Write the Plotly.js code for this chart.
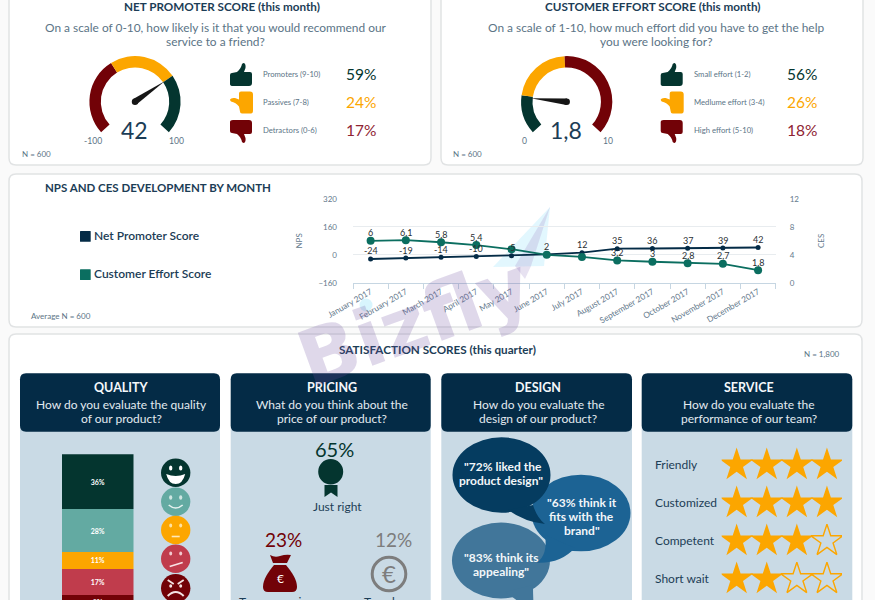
<!DOCTYPE html>
<html>
<head>
<meta charset="utf-8">
<title>Customer satisfaction dashboard</title>
<script src="https://cdn.plot.ly/plotly-3.0.1.min.js"></script>
<style>
    html, body { margin: 0; padding: 0; width: 875px; height: 600px; overflow: hidden; background: #fafafa; }
</style>
</head>
<body>
<div id="dashboard"></div>
<script>
// --- Data ---
const months = ['January 2017', 'February 2017', 'March 2017', 'April 2017', 'May 2017', 'June 2017', 'July 2017', 'August 2017', 'September 2017', 'October 2017', 'November 2017', 'December 2017'];
const npsValues = [-24, -19, -14, -10, -5, 2, 12, 35, 36, 37, 39, 42];
const cesValues = [6, 6.1, 5.8, 5.4, 4.8, 4, 3.7, 3.2, 3, 2.8, 2.7, 1.8];
const npsText = ['-24', '-19', '-14', '-10', '-5', '2', '12', '35', '36', '37', '39', '42'];
const cesText = ['6', '6,1', '5,8', '5,4', '', '', '', '3,2', '3', '2,8', '2,7', '1,8'];

const npsScore = 42;
const npsScale = [-100, 100];
const npsBands = [76, 66, 58];
const cesScore = 1.8;
const cesScale = [0, 10];
const cesBands = [1.9, 3, 5.1];

const npsGroups = ['Promoters (9-10)', 'Passives (7-8)', 'Detractors (0-6)'];
const npsShares = ['59%', '24%', '17%'];
const cesGroups = ['Small effort (1-2)', 'Medlume effort (3-4)', 'High effort (5-10)'];
const cesShares = ['56%', '26%', '18%'];

const qualityValues = [36, 28, 11, 17, 8];
const serviceRows = ['Friendly', 'Customized', 'Competent', 'Short wait'];
const serviceRatings = [4, 4, 3, 2];
const maxStars = 4;

// --- Colours ---
const GREEN = '#04352f', TEAL = '#63aaa2', AMBER = '#fca600', ROSE = '#c03c4c', MAROON = '#720207';
const NAVY = '#042b46', INK = '#1c3d56', SOFT = '#5b7486', PANEL = '#c9dae5', LINE_TEAL = '#0b6e60';
const FONT = 'Lato, "Open Sans", sans-serif';

// The div is taller than the window: the lower panels run off the bottom edge
const W = 875, H = 640;
const X = x => x / W;
const Y = y => 1 - y / H;

const shapes = [];
const notes = [];

function txt(x, y, text, size, color, extra) {
    const e = extra || {};
    notes.push(Object.assign({
        xref: 'paper', yref: 'paper', x: X(x), y: Y(y), text, showarrow: false,
        xanchor: 'center', yanchor: 'middle', yshift: 1, xshift: e.xanchor === 'left' ? -2 : 0,
        font: { family: FONT, size, color, weight: e.weight || 400 }
    }, extra || {}));
}

// d is written in window pixels, tf optionally moves/rotates the points first
function pathOf(d, tf) {
    return d.replace(/(-?[\d.]+)[ ,]+(-?[\d.]+)/g, (m, a, b) => {
        const p = tf ? tf(+a, +b) : [+a, +b];
        return X(p[0]).toFixed(5) + ',' + Y(p[1]).toFixed(5);
    });
}
function draw(d, fill, opts) {
    const o = opts || {};
    shapes.push({
        type: 'path', xref: 'paper', yref: 'paper', path: pathOf(d, o.tf),
        fillcolor: fill, layer: o.layer || 'above',
        line: { width: o.lineWidth || 0, color: o.lineColor || 'rgba(0,0,0,0)' }
    });
}
function stroke(d, color, width, tf) {
    shapes.push({
        type: 'path', xref: 'paper', yref: 'paper', path: pathOf(d, tf), layer: 'above',
        fillcolor: 'rgba(0,0,0,0)', line: { width, color }
    });
}
function dot(cx, cy, rx, ry, fill, opts) {
    const o = opts || {};
    shapes.push({
        type: 'circle', xref: 'paper', yref: 'paper', layer: o.layer || 'above',
        x0: X(cx - rx), x1: X(cx + rx), y0: Y(cy - ry), y1: Y(cy + ry),
        fillcolor: fill, line: { width: o.lineWidth || 0, color: o.lineColor || 'rgba(0,0,0,0)' }
    });
}
function round(x0, y0, x1, y1, r) {
    return `M ${x0 + r} ${y0} L ${x1 - r} ${y0} Q ${x1} ${y0} ${x1} ${y0 + r} L ${x1} ${y1 - r} Q ${x1} ${y1} ${x1 - r} ${y1} L ${x0 + r} ${y1} Q ${x0} ${y1} ${x0} ${y1 - r} L ${x0} ${y0 + r} Q ${x0} ${y0} ${x0 + r} ${y0} Z`;
}

// --- Cards ---
[[9, -20, 431, 165], [441, -20, 863, 165], [9, 174, 862, 327], [9, 334, 862, 660]].forEach(c => {
    draw(round(c[0], c[1], c[2], c[3], 7), '#ffffff', { layer: 'below', lineWidth: 1.5, lineColor: '#e1e3e4' });
});

// --- Watermark plane, sits behind the chart ---
draw('M 550 207 L 493 267 L 544 266 Z', 'rgba(190,238,252,0.45)', { layer: 'below' });
draw('M 550 207 L 515 266 L 525 279 L 531 266 Z', 'rgba(170,150,205,0.28)', { layer: 'below' });
dot(366, 305, 6.5, 6.5, 'rgba(190,238,252,0.6)', { layer: 'below' });

// --- Gauges ---
const GAUGE_SWEEP = 264, GAUGE_R = 45.6;

function gaugeTrace(cx, cy, bands, colors) {
    const total = bands.reduce((a, b) => a + b, 0);
    return {
        type: 'pie', values: bands.concat([total * (360 - GAUGE_SWEEP) / GAUGE_SWEEP]),
        sort: false, direction: 'clockwise', rotation: -GAUGE_SWEEP / 2, hole: 0.75,
        textinfo: 'none', hoverinfo: 'skip', showlegend: false,
        marker: { colors: colors.concat(['rgba(0,0,0,0)']), line: { width: 0 } },
        domain: { x: [X(cx - GAUGE_R), X(cx + GAUGE_R)], y: [Y(cy + GAUGE_R), Y(cy - GAUGE_R)] }
    };
}
function needle(cx, cy, value, scale) {
    const deg = -GAUGE_SWEEP / 2 + (value - scale[0]) / (scale[1] - scale[0]) * GAUGE_SWEEP;
    const a = deg * Math.PI / 180;
    const ux = Math.sin(a), uy = -Math.cos(a), nx = -uy, ny = ux;
    const tip = [cx + ux * 36, cy + uy * 36];
    const b = 3.2;
    draw(`M ${tip[0]} ${tip[1]} L ${cx + nx * b} ${cy + ny * b} L ${cx - nx * b} ${cy - ny * b} Z`, '#161616');
    dot(cx, cy, b, b, '#161616');
}

// --- Thumbs, local box is 22 x 23 ---
const THUMB = 'M 0 12 Q 0 10 2 10 L 7 9 Q 11 6 12 1 Q 13 0 14 0 Q 16 1 15.5 5 L 14 9 L 20 9 Q 22 9 22 11 L 22 20 Q 22 23 19 23 L 3 23 Q 0 23 0 21 Z';
function thumbs(ox) {
    draw(THUMB, GREEN, { tf: (x, y) => [ox + x, 63 + y] });
    draw(THUMB, AMBER, { tf: (x, y) => [ox + y, 91.5 + 22 - x] });
    draw(THUMB, MAROON, { tf: (x, y) => [ox + x, 121 + 22 - y] });
}

function scoreCard(o) {
    txt(o.titleX, 7, o.title, 11.7, INK, { weight: 700 });
    txt(o.askX, 29, o.ask[0], 11.9, SOFT);
    txt(o.askX, 43, o.ask[1], 11.9, SOFT);
    needle(o.cx, 101.7, o.score, o.scale);
    txt(o.cx - 0.5, 131, o.scoreText, 23, INK);
    txt(o.minX, 142, String(o.scale[0]), 8.6, SOFT);
    txt(o.maxX, 142, String(o.scale[1]), 8.6, SOFT);
    thumbs(o.thumbX);
    [74.5, 102.5, 131].forEach((y, i) => {
        txt(o.labelX, y, o.groups[i], 7.7, SOFT, { xanchor: 'left' });
        txt(o.shareX, y, o.shares[i], 15.5, [GREEN, AMBER, '#8f2433'][i], { xanchor: 'left' });
    });
    txt(o.nX, 155, 'N = 600', 8, SOFT, { xanchor: 'left' });
}

scoreCard({
    title: 'NET PROMOTER SCORE (this month)', titleX: 222,
    ask: ['On a scale of 0-10, how likely is it that you would recommend our', 'service to a friend?'], askX: 215.5,
    cx: 135, score: npsScore, scale: npsScale, scoreText: String(npsScore), minX: 93, maxX: 176.7,
    thumbX: 230, labelX: 262.5, shareX: 345.7, groups: npsGroups, shares: npsShares, nX: 22
});
scoreCard({
    title: 'CUSTOMER EFFORT SCORE (this month)', titleX: 653,
    ask: ['On a scale of 1-10, how much effort did you have to get the help', 'you were looking for?'], askX: 656,
    cx: 566.7, score: cesScore, scale: cesScale, scoreText: String(cesScore).replace('.', ','), minX: 524.3, maxX: 608.3,
    thumbX: 660.7, labelX: 694, shareX: 786.7, groups: cesGroups, shares: cesShares, nX: 453
});

// --- Monthly chart headings, legend and point labels ---
txt(45.3, 188.3, 'NPS AND CES DEVELOPMENT BY MONTH', 11.5, INK, { xanchor: 'left', weight: 700 });
draw(round(80, 231, 90.7, 241.7, 0.5), NAVY);
draw(round(80, 269.3, 90.7, 280, 0.5), LINE_TEAL);
txt(94, 236, 'Net Promoter Score', 12, INK, { xanchor: 'left', weight: 600 });
txt(94, 274, 'Customer Effort Score', 12, INK, { xanchor: 'left', weight: 600 });
txt(30.7, 317, 'Average N = 600', 8, SOFT, { xanchor: 'left' });

function pointLabels(texts, values, yref) {
    texts.forEach((t, i) => {
        if (!t) return;
        notes.push({
            xref: 'x', yref, x: i, y: values[i], yshift: 8, text: t, showarrow: false,
            font: { family: FONT, size: 9, color: '#2a2f33' }
        });
    });
}
pointLabels(npsText, npsValues, 'y');
pointLabels(cesText, cesValues, 'y2');

// --- Satisfaction panels ---
txt(437, 350, 'SATISFACTION SCORES (this quarter)', 11.7, INK, { weight: 700 });
txt(842, 355, 'N = 1,800', 8, SOFT, { xanchor: 'right' });

[
    [20, 220, 'QUALITY', 'How do you evaluate the quality', 'of our product?'],
    [230.7, 430.7, 'PRICING', 'What do you think about the', 'price of our product?'],
    [441.3, 632, 'DESIGN', 'How do you evaluate the', 'design of our product?'],
    [641.7, 852.3, 'SERVICE', 'How do you evaluate the', 'performance of our team?']
].forEach(p => {
    const mid = (p[0] + p[1]) / 2 + 1.5;
    draw(round(p[0], 400, p[1], 660, 0), PANEL, { layer: 'below' });
    draw(round(p[0], 373.3, p[1], 431.7, 6), NAVY, { layer: 'below' });
    txt(mid, 388, p[2], 12.5, '#f4f8fb', { weight: 700 });
    txt(mid, 405, p[3], 12, '#e2eaf0');
    txt(mid, 419, p[4], 12, '#e2eaf0');
});

// Quality faces
const faceX = 175.7;
dot(faceX, 472.7, 14.7, 14.2, GREEN);
dot(faceX - 5, 468, 1.7, 2.6, '#fff');
dot(faceX + 5, 468, 1.7, 2.6, '#fff');
draw(`M ${faceX - 9.5} 474 Q ${faceX} 478 ${faceX + 9.5} 474 Q ${faceX + 7} 484 ${faceX} 484 Q ${faceX - 7} 484 ${faceX - 9.5} 474 Z`, '#fff');

dot(faceX, 501.7, 14.7, 14.2, TEAL);
dot(faceX - 5, 497.5, 1.6, 2.2, '#cfe6e2');
dot(faceX + 5, 497.5, 1.6, 2.2, '#cfe6e2');
stroke(`M ${faceX - 7} 505 Q ${faceX} 511 ${faceX + 7} 505`, '#e6f2f0', 1.6);

dot(faceX, 530, 14.7, 14.2, AMBER);
dot(faceX - 5, 525.5, 1.5, 2, '#ffe2a0');
dot(faceX + 5, 525.5, 1.5, 2, '#ffe2a0');
stroke(`M ${faceX - 4} 536.5 L ${faceX + 4} 536.5`, '#ffe9bb', 1.6);

dot(faceX, 558.7, 14.7, 14.2, ROSE);
dot(faceX - 5, 553.5, 1.5, 2, '#f2c9ce');
dot(faceX + 5, 553.5, 1.5, 2, '#f2c9ce');
stroke(`M ${faceX - 6} 566.5 L ${faceX + 7} 562.5`, '#f8e3e5', 1.7);

dot(faceX, 588.3, 14.7, 14.2, MAROON);
stroke(`M ${faceX - 8} 580 L ${faceX - 2} 584`, '#f3e3e3', 1.8);
stroke(`M ${faceX + 8} 580 L ${faceX + 2} 584`, '#f3e3e3', 1.8);
dot(faceX - 5, 586, 1.5, 1.7, '#f3e3e3');
dot(faceX + 5, 586, 1.5, 1.7, '#f3e3e3');
stroke(`M ${faceX - 8} 596 Q ${faceX} 588 ${faceX + 8} 596`, '#f3e3e3', 2);

// Pricing
txt(334, 450, '65%', 20, GREEN);
dot(330.7, 471.7, 12.5, 12.7, GREEN);
draw('M 324.5 485 L 337.5 485 L 337.5 497 L 331 492.5 L 324.5 497 Z', GREEN);
txt(337, 507, 'Just right', 12, INK);
txt(283, 540.7, '23%', 19, MAROON);
txt(393, 540.7, '12%', 19, '#7d7d7d');
draw('M 270 555 Q 275 558 280 556 Q 286 554 291 555 L 287 563 L 273 563 Z', MAROON);
draw('M 274 565 L 286 565 C 292 572 297 580 297 587 Q 297 592 292 592 L 268 592 Q 263 592 263 587 C 263 580 268 572 274 565 Z', MAROON);
txt(280, 579, '€', 12, '#ffffff');
dot(389, 574, 16.8, 16.8, 'rgba(0,0,0,0)', { lineWidth: 3, lineColor: '#7d7d7d' });
txt(388.5, 574, '€', 24, '#7d7d7d');
txt(276, 602, 'Too expensive', 12, INK);
txt(391, 602, 'Too cheap', 12, INK);

// Design speech bubbles, back to front
dot(501, 560.5, 49, 38, '#41769a');
draw('M 505 592 Q 525 605 535 618 Q 533 605 533 585 Z', '#41769a');
dot(581, 513, 49.5, 38.3, '#1c6394');
draw('M 545 535 Q 548 555 536.7 562.7 Q 560 564 575 548 Z', '#1c6394');
dot(501.5, 475, 49, 37.7, '#053c60');
draw('M 508 510 Q 525 522 545 524 Q 537 518 533 505 Z', '#053c60');
const quote = (x, y, s) => txt(x, y, s, 12, '#f2f6f9', { weight: 700 });
quote(503, 467, '"72% liked the');
quote(501, 481, 'product design"');
quote(581.7, 503, '"63% think it');
quote(581.7, 517, 'fits with the');
quote(581.7, 531, 'brand"');
quote(501, 558, '"83% think its');
quote(501, 572, 'appealing"');

// Service row labels follow the star axis
serviceRows.forEach((name, i) => {
    notes.push({
        xref: 'paper', yref: 'y4', x: X(653), y: i, yshift: 1, text: name, showarrow: false, xanchor: 'left', yanchor: 'middle',
        font: { family: FONT, size: 12, color: INK }
    });
});

// Watermark goes over everything
notes.push({
    xref: 'paper', yref: 'paper', x: X(414), y: Y(322), text: 'Bizfly', showarrow: false, textangle: -20,
    font: { family: '"DejaVu Sans", sans-serif', size: 78, color: 'rgba(108,78,160,0.22)', weight: 700 }
});

// --- Traces ---
const traces = [];

traces.push(gaugeTrace(135, 101.7, npsBands, [MAROON, AMBER, GREEN]));
traces.push(gaugeTrace(566.7, 101.7, cesBands, [GREEN, AMBER, MAROON]));

traces.push({
    type: 'scatter', mode: 'lines+markers', name: 'Net Promoter Score',
    x: months, y: npsValues,
    line: { color: NAVY, width: 1.8 }, marker: { color: NAVY, size: 5 }, cliponaxis: false
});
traces.push({
    type: 'scatter', mode: 'lines+markers', name: 'Customer Effort Score', yaxis: 'y2',
    x: months, y: cesValues,
    line: { color: LINE_TEAL, width: 1.8 }, marker: { color: LINE_TEAL, size: 8 }, cliponaxis: false
});

[GREEN, TEAL, AMBER, ROSE, MAROON].forEach((color, i) => {
    traces.push({
        type: 'bar', x: ['Quality'], y: [qualityValues[i]], xaxis: 'x3', yaxis: 'y3',
        text: [qualityValues[i] + '%'], textposition: 'inside', constraintext: 'none',
        insidetextanchor: i === qualityValues.length - 1 ? 'start' : 'middle',
        textfont: { family: FONT, size: 7, color: '#ffffff', weight: 700 },
        marker: { color, line: { width: 0 } }
    });
});

// Stars: one point per star, filled up to the rating and open after it
const starX = [], starY = [], openX = [], openY = [];
serviceRows.forEach((name, i) => {
    for (let s = 1; s <= maxStars; s++) {
        if (s <= serviceRatings[i]) { starX.push(s); starY.push(name); }
        else { openX.push(s); openY.push(name); }
    }
});
traces.push({
    type: 'scatter', mode: 'markers', x: starX, y: starY, xaxis: 'x4', yaxis: 'y4',
    marker: { symbol: 'star', size: 25, color: AMBER, line: { width: 0 } }
});
traces.push({
    type: 'scatter', mode: 'markers', x: openX, y: openY, xaxis: 'x4', yaxis: 'y4',
    marker: { symbol: 'star-open', size: 24, color: AMBER, line: { width: 1.4, color: AMBER } }
});

// --- Layout ---
const layout = {
    width: W, height: H,
    margin: { l: 0, r: 0, t: 0, b: 0 },
    paper_bgcolor: '#fafafa', plot_bgcolor: 'rgba(0,0,0,0)',
    showlegend: false, hovermode: false,
    font: { family: FONT, color: SOFT },
    barmode: 'stack', bargap: 0,
    shapes, annotations: notes,

    xaxis: {
        domain: [X(353), X(775.7)], anchor: 'y', type: 'category', tickson: 'boundaries', range: [-0.5, 11.5],
        ticks: 'outside', ticklen: 5, tickcolor: '#c6d6e2', showline: true, linecolor: '#c6d6e2', linewidth: 1.2,
        showgrid: false, tickangle: -30, tickfont: { size: 8.3, color: '#64798c' }, automargin: false
    },
    yaxis: {
        domain: [Y(282.7), Y(199)], anchor: 'x', range: [-160, 320], dtick: 160,
        gridcolor: '#e8ecef', zeroline: false, ticklabelstandoff: 15,
        tickfont: { size: 8, color: '#64798c' }, automargin: false,
        title: { text: 'NPS', standoff: 14, font: { size: 8, color: '#64798c' } }
    },
    yaxis2: {
        overlaying: 'y', side: 'right', anchor: 'x', range: [0, 12], dtick: 4,
        showgrid: false, zeroline: false, ticklabelstandoff: 13,
        tickfont: { size: 8, color: '#64798c' }, automargin: false,
        title: { text: 'CES', standoff: 20, font: { size: 8, color: '#64798c' } }
    },

    xaxis3: { domain: [X(62), X(133.5)], anchor: 'y3', type: 'category', visible: false, range: [-0.5, 0.5] },
    yaxis3: { domain: [Y(606.8), Y(454.3)], anchor: 'x3', range: [100, 0], visible: false },

    xaxis4: { domain: [X(721.6), X(842)], anchor: 'y4', range: [0.5, maxStars + 0.5], visible: false },
    yaxis4: {
        domain: [Y(598), Y(446)], anchor: 'x4', type: 'category', visible: false,
        categoryorder: 'array', categoryarray: serviceRows, range: [3.5, -0.5]
    }
};

Plotly.newPlot('dashboard', traces, layout, { displayModeBar: false, staticPlot: true });
</script>
</body>
</html>
